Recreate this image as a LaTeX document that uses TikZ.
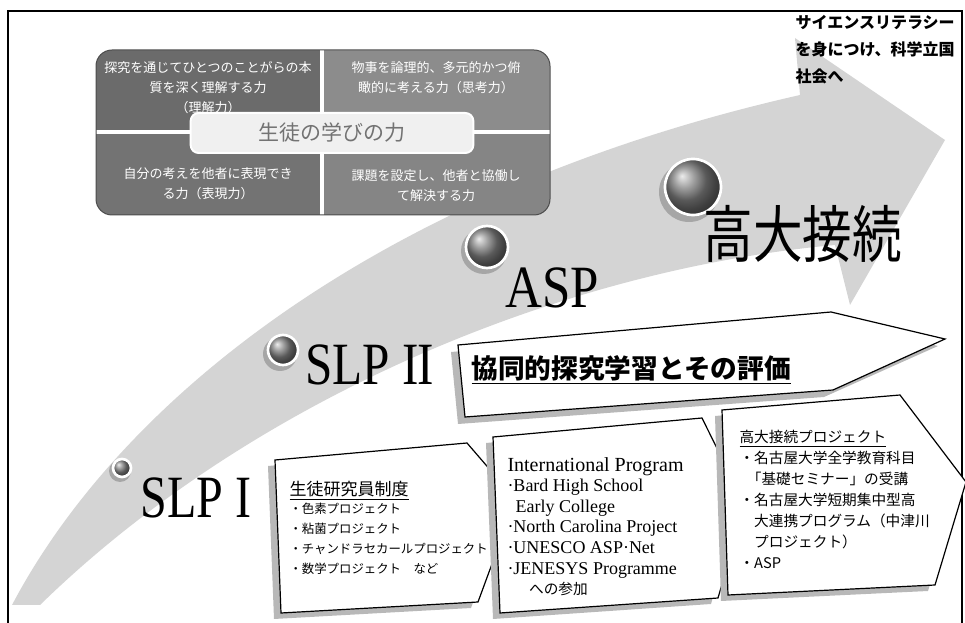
\documentclass[tikz,border=0pt]{standalone}
\usepackage{fontspec}
\setmainfont{Liberation Serif}
\newfontfamily\jpfont{Noto Sans CJK JP}

\tikzset{every picture/.style={line width=0.75pt}}
\tikzset{
  celltext/.style={text=white, font=\jpfont\fontsize{9.75}{15}\selectfont, align=center, inner sep=0pt},
  boxshadow/.style={fill=black!28, draw opacity=0},
  boxface/.style={fill=white, draw=black, line width=0.9pt},
  listtext/.style={anchor=north west, align=left, inner sep=0pt},
  sphere/.style={shading=ball, ball color=black!50, draw=white, line width=2pt},
  stagelabel/.style={anchor=base west, inner sep=0pt, font=\fontsize{45}{45}\selectfont}
}

\begin{document}
\begin{tikzpicture}[x=0.75pt,y=0.75pt,yscale=-1,xscale=1]
	\useasboundingbox (0,0) rectangle (965,623);

	%Shape: Frame
	\draw [line width=1.5pt] (8,640) -- (8,11) -- (962,11) -- (962,640) ;

	%Shape: Curved Arrow
	\fill [black!17] (12,605) .. controls (120,400) and (380,190) .. (800,95) -- (795,38) -- (945,140) -- (850,305) -- (835,245) .. controls (560,270) and (250,400) .. (40,605) -- cycle ;

	%Shape: Rounded Rectangle (4 cells)
	\begin{scope}
	\clip [rounded corners=12] (96,50) rectangle (550,215) ;
	\fill [black!58] (96,50) rectangle (322,132) ;
	\fill [black!45] (322,50) rectangle (550,132) ;
	\fill [black!55] (96,132) rectangle (322,215) ;
	\fill [black!48] (322,132) rectangle (550,215) ;
	\draw [white, line width=2.5pt] (322,50) -- (322,215) ;
	\draw [white, line width=2.5pt] (96,132) -- (550,132) ;
	\end{scope}
	\draw [black!70, rounded corners=12] (96,50) rectangle (550,215) ;

	% Text Node
	\draw (208,88) node (cellA) [celltext] {探究を通じてひとつのことがらの本\\質を深く理解する力\\（理解力）};
	\draw (436,78) node (cellB) [celltext] {物事を論理的、多元的かつ俯\\瞰的に考える力（思考力）};
	\draw (208,184) node (cellC) [celltext] {自分の考えを他者に表現でき\\る力（表現力）};
	\draw (436,186) node (cellD) [celltext] {課題を設定し、他者と協働し\\て解決する力};
	\draw (332,133) node (powers) [fill=black!6, draw=white, line width=1.5pt, rounded corners=6, minimum width=212, minimum height=30, text=black!55, font=\jpfont\fontsize{15.75}{16}\selectfont] {生徒の学びの力};

	% Text Node
	\draw (795,15) node (goal) [listtext, font=\jpfont\bfseries\fontsize{12}{20}\selectfont] {サイエンスリテラシー\\を身につけ、科学立国\\社会へ};

	%Shape: Circles
	\fill [black!35] (120,471) circle (11) ;
	\draw [sphere] (122,468) circle (9) ;
	\fill [black!35] (280,354) circle (17) ;
	\draw [sphere] (283,350) circle (15) ;
	\fill [black!35] (484,251) circle (23) ;
	\draw [sphere] (487,247) circle (21) ;
	\fill [black!35] (689,192) circle (30) ;
	\draw [sphere] (693,187) circle (28) ;

	% Text Node
	\draw (140,518) node (slpone) [stagelabel] {\scalebox{0.8}[1]{SLP I}};
	\draw (305,385) node (slptwo) [stagelabel] {\scalebox{0.82}[1]{SLP I\kern-0.04em I}};
	\draw (505,308) node (asp) [stagelabel] {\scalebox{0.85}[1]{ASP}};
	\draw (703,258) node (kodai) [anchor=base west, inner sep=0pt, font=\jpfont\fontsize{46.5}{47}\selectfont] {\scalebox{0.8}[1]{高大接続}};

	%Shape: Arrow SLP II
	\fill [boxshadow] (451,352) -- (824,319) -- (938,346) -- (824,397) -- (458,424) -- cycle ;
	\draw [boxface] (458,345) -- (831,312) -- (945,339) -- (833,390) -- (465,417) -- cycle ;
	\draw (471,370) node (coop) [anchor=west, inner sep=0pt, font=\jpfont\bfseries\fontsize{20}{20}\selectfont] {\underline{協同的探究学習とその評価}};

	%Shape: Box 1
	\fill [boxshadow] (268,466) -- (460,449) -- (485,478) -- (503,520) -- (471,608) -- (274,619) -- cycle ;
	\draw [boxface] (275,460) -- (467,443) -- (492,472) -- (510,515) -- (478,602) -- (281,613) -- cycle ;
	\draw (289,481) node (box1) [listtext, font=\jpfont\fontsize{9.3}{15}\selectfont] {{\fontsize{12.75}{15}\selectfont\underline{生徒研究員制度}}\\[-2pt]・色素プロジェクト\\・粘菌プロジェクト\\・チャンドラセカールプロジェクト\\・数学プロジェクト　など};

	%Shape: Box 2
	\fill [boxshadow] (486,443) -- (695,424) -- (738,511) -- (711,604) -- (493,619) -- cycle ;
	\draw [boxface] (493,437) -- (702,418) -- (745,505) -- (718,598) -- (500,613) -- cycle ;
	\draw (507,457) node (box2) [listtext, font=\fontsize{13.5}{15.4}\selectfont] {{\fontsize{15}{15.4}\selectfont International Program}\\·Bard High School\\\hspace{0.45em}Early College\\·North Carolina Project\\·UNESCO ASP·Net\\·JENESYS Programme\\\hspace{1.2em}{\jpfont\fontsize{11}{15.4}\selectfont への参加}};

	%Shape: Box 3
	\fill [boxshadow] (715,416) -- (893,401) -- (959,488) -- (928,591) -- (721,601) -- cycle ;
	\draw [boxface] (722,410) -- (900,395) -- (966,482) -- (935,585) -- (728,595) -- cycle ;
	\draw (739,430) node (box3) [listtext, font=\jpfont\fontsize{11}{15.75}\selectfont] {\underline{高大接続プロジェクト}\\・名古屋大学全学教育科目\\\hspace{0.5em}「基礎セミナー」の受講\\・名古屋大学短期集中型高\\\hspace{1em}大連携プログラム（中津川\\\hspace{1em}プロジェクト）\\・ASP};

\end{tikzpicture}
\end{document}
